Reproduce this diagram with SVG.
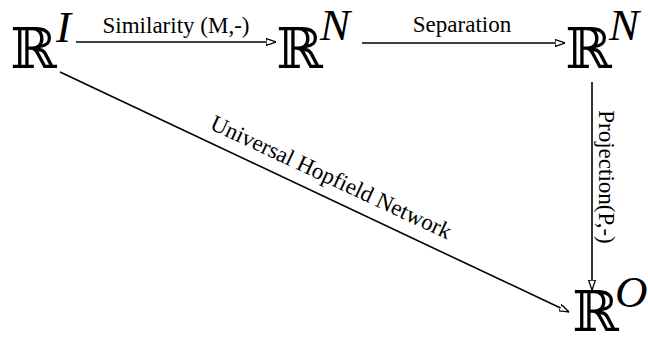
<svg xmlns="http://www.w3.org/2000/svg" width="648" height="340" viewBox="0 0 648 340">
<style>
.bb{font-family:"DejaVu Serif","DejaVu Sans",serif;font-size:56px;fill:#000}
.sup{font-family:"Liberation Serif",serif;font-style:italic;font-size:45px;fill:#000}
.lbl{font-family:"Liberation Serif","Times New Roman",serif;font-size:23px;fill:#000}
.conn{stroke:#000;stroke-width:1.6;fill:none;marker-end:url(#ah)}
</style>
<defs>
<marker id="ah" viewBox="0 0 10 8" refX="10" refY="4" markerWidth="10" markerHeight="8" markerUnits="userSpaceOnUse" orient="auto">
<path d="M0,0.5 L10,4 L0,7.5 Z" fill="#fff" stroke="#000" stroke-width="1.3"/>
</marker>
</defs>
<rect width="648" height="340" fill="#fff"/>
<g id="connectors">
<line class="conn" x1="76" y1="42" x2="276" y2="42"/>
<line class="conn" x1="362" y1="43" x2="565" y2="43"/>
<line class="conn" x1="592" y1="82" x2="592" y2="290"/>
<line class="conn" x1="60" y1="72" x2="569" y2="312"/>
<text class="lbl" x="176" y="33" text-anchor="middle">Similarity (M,-)</text>
<text class="lbl" x="462" y="32" text-anchor="middle">Separation</text>
<text class="lbl" text-anchor="middle" transform="translate(599,177) rotate(90)">Projection(P,-)</text>
<text class="lbl" text-anchor="middle" font-size="24" transform="translate(328,184) rotate(25)">Universal Hopfield Network</text>
</g>
<g id="node-RI">
<text class="bb" x="10" y="68">ℝ</text>
<text class="sup" x="56" y="42">I</text>
</g>
<g id="node-RN1">
<text class="bb" x="276" y="68">ℝ</text>
<text class="sup" x="320" y="40">N</text>
</g>
<g id="node-RN2">
<text class="bb" x="565" y="68">ℝ</text>
<text class="sup" x="609" y="40">N</text>
</g>
<g id="node-RO">
<text class="bb" x="572" y="331" font-size="54">ℝ</text>
<text class="sup" x="615" y="307" font-size="36">O</text>
</g>
</svg>
